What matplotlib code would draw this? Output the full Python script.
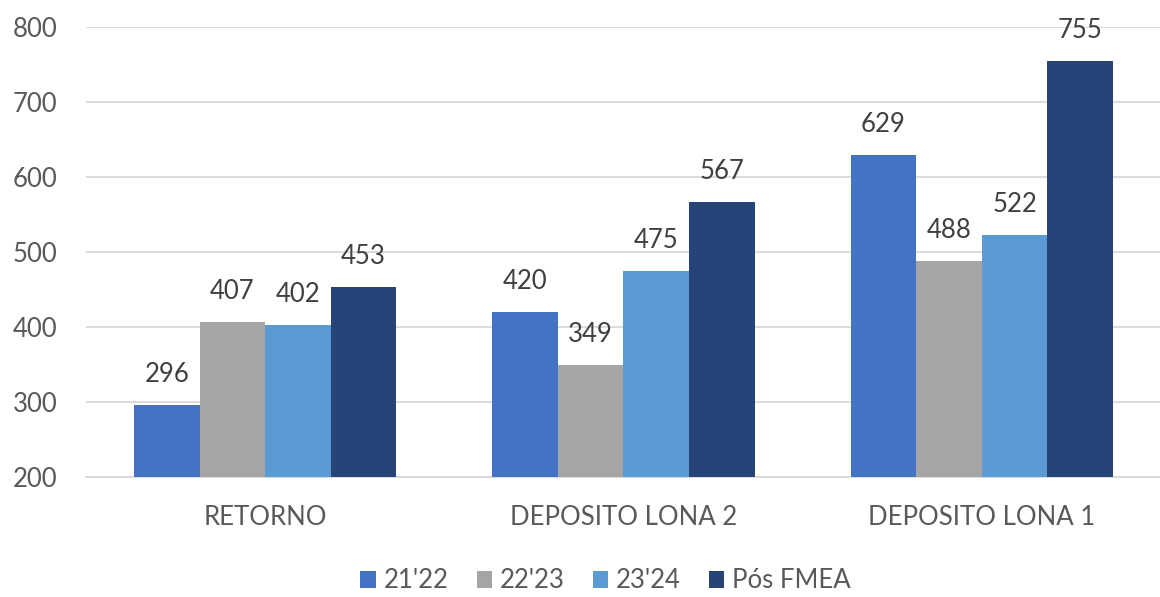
import matplotlib
matplotlib.use('Agg')
import matplotlib.pyplot as plt
import numpy as np

categories = ['RETORNO', 'DEPOSITO LONA 2', 'DEPOSITO LONA 1']
series_names = ["21'22", "22'23", "23'24", 'Pós FMEA']
v_2122 = [296, 420, 629]
v_2223 = [407, 349, 488]
v_2324 = [402, 475, 522]
v_pos = [453, 567, 755]
colors = ['#4472C4', '#A5A5A5', '#5B9BD5', '#264478']

plt.rcParams['font.family'] = ['Lato', 'DejaVu Sans']
fs = 18.5

fig = plt.figure(figsize=(11.6, 5.97), dpi=100)
ax = fig.add_axes([86 / 1160, 0.201, 1075 / 1160, 0.7538])

x = np.arange(len(categories))
width = 0.183
list_values = [v_2122, v_2223, v_2324, v_pos]
for i, (name, vals) in enumerate(zip(series_names, list_values)):
    pos = x + (i - 1.5) * width
    ax.bar(pos, np.array(vals) - 200, width, bottom=200, color=colors[i],
           label=name, zorder=3)
    for xb, v in zip(pos, vals):
        ax.annotate(str(v), (xb, v), xytext=(0, 13), textcoords='offset points',
                    ha='center', va='bottom', fontsize=fs, color='#404040')

ax.set_xlim(-0.5, 2.5)
ax.set_ylim(200, 800)
ax.set_yticks(range(200, 801, 100))
ax.yaxis.grid(True, color='#D9D9D9', linewidth=1.3, zorder=0)
ax.set_xticks(x)
ax.set_xticklabels(categories)
for s in ['top', 'right', 'left']:
    ax.spines[s].set_visible(False)
ax.spines['bottom'].set_color('#D9D9D9')
ax.spines['bottom'].set_linewidth(1.3)
ax.tick_params(axis='both', length=0, labelsize=fs, colors='#595959')
ax.tick_params(axis='x', pad=20)
ax.tick_params(axis='y', pad=53)
for lbl in ax.get_yticklabels():
    lbl.set_horizontalalignment('left')
ax.set_axisbelow(True)

fig.legend(loc='center', bbox_to_anchor=(0.522, 1 - 581 / 597), ncol=4, frameon=False,
           fontsize=fs, handlelength=0.6, handleheight=0.6, handletextpad=0.3,
           columnspacing=1.1, labelcolor='#595959')

fig.savefig('out.png', dpi=100)
